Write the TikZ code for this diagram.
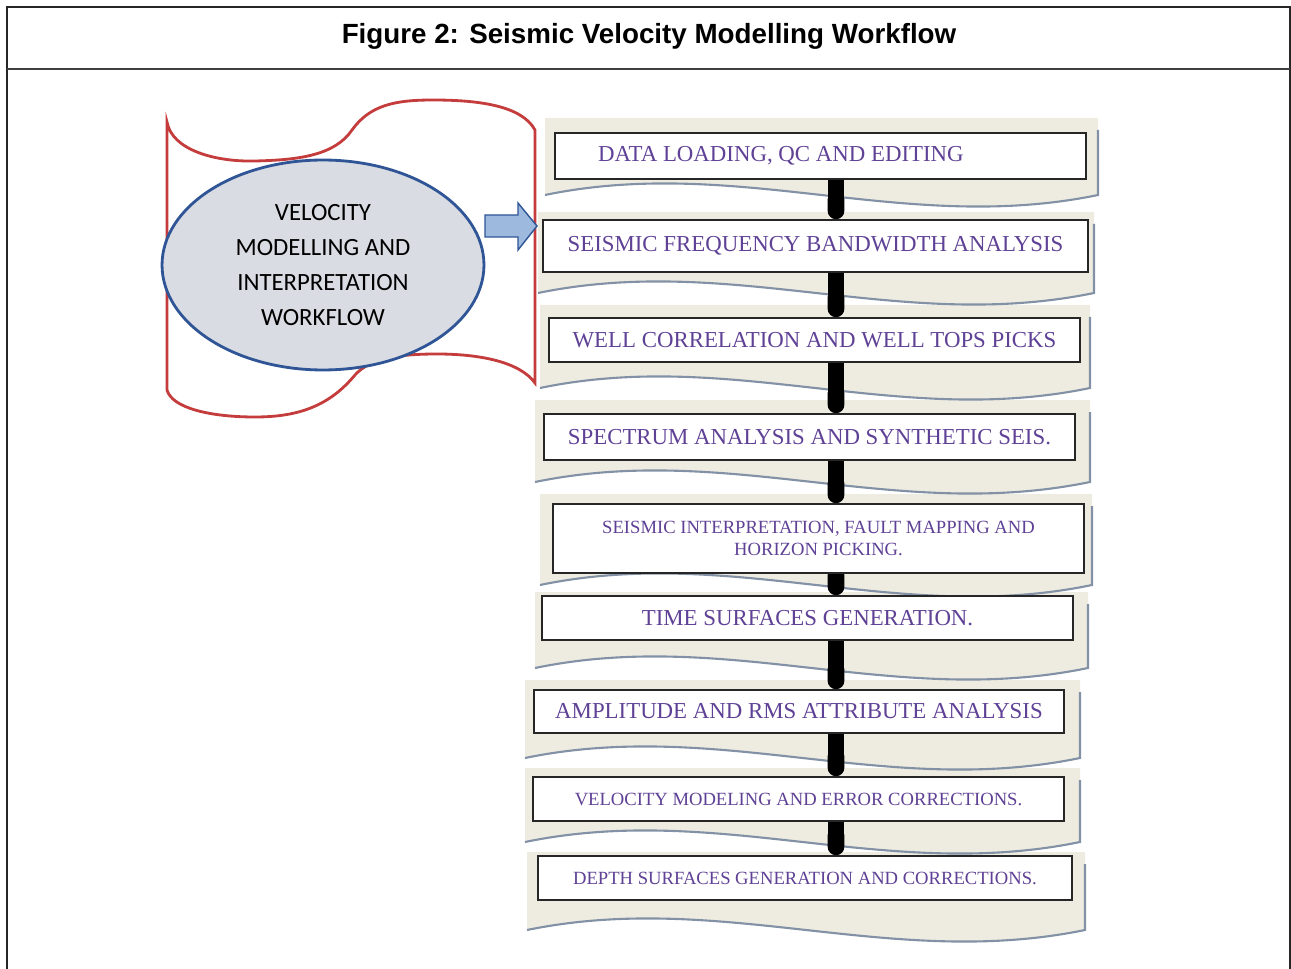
\documentclass[tikz,border=0pt]{standalone}
\usepackage{fontspec}
\setmainfont{Liberation Serif}
\newfontfamily\headfont{Liberation Sans}
\newfontfamily\bubblefont{Carlito}
\usepackage{tikz}
\usetikzlibrary{arrows.meta,positioning,shapes.geometric}
\definecolor{docbeige}{RGB}{238,236,225}
\definecolor{docedge}{RGB}{130,145,165}
\definecolor{taperred}{RGB}{196,60,60}
\definecolor{bubbleblue}{RGB}{47,85,151}
\definecolor{bubblefill}{RGB}{217,220,226}
\definecolor{arrowblue}{RGB}{157,185,222}
\definecolor{steppurple}{RGB}{95,65,150}

\begin{document}
\begin{tikzpicture}[
x=0.02cm, y=-0.02cm,
stepbox/.style={draw=black!85, line width=0.9pt, fill=white, minimum width=10.62cm, minimum height=0.88cm, inner sep=0pt, text=steppurple, font=\fontsize{13}{15}\selectfont, align=center},
smallstep/.style={stepbox, font=\fontsize{10.6}{12}\selectfont},
flow/.style={line width=9.5pt, -{Round Cap[]}, black}
]
    \useasboundingbox (0,0) rectangle (1291,969);

    % Draw frame and title
    \draw[line width=1.2pt, black!85] (7,969) -- (7,7) -- (1290,7) -- (1290,969);
    \draw[line width=1.2pt, black!75] (7,69) -- (1290,69);
    \node (title) at (649,36) {\headfont\bfseries\fontsize{15.8}{18}\selectfont Figure 2: Seismic Velocity Modelling Workflow};

    % Draw tape and bubble
    \draw[taperred, line width=1.6pt, fill=white]
        (167,122) .. controls (172,150) and (215,162) .. (255,161)
        .. controls (300,160) and (335,155) .. (352,130)
        .. controls (370,105) and (395,100) .. (433,100)
        .. controls (480,100) and (522,106) .. (535,130)
        -- (535,383)
        .. controls (520,362) and (480,354) .. (437,354)
        .. controls (400,354) and (370,358) .. (355,375)
        .. controls (330,405) and (300,417) .. (255,417)
        .. controls (210,417) and (172,408) .. (167,390) -- cycle;

    \node[ellipse, draw=bubbleblue, line width=1.6pt, fill=bubblefill, minimum width=6.44cm, minimum height=4.2cm, align=center,
          font=\bubblefont\fontsize{14.1}{19.9}\selectfont] (bubble) at (323,265)
          {VELOCITY\\MODELLING AND\\INTERPRETATION\\WORKFLOW};

    \draw[bubbleblue, line width=0.8pt, fill=arrowblue]
        (485,215) -- (518,215) -- (518,203) -- (537,226) -- (518,250) -- (518,237) -- (485,237) -- cycle;

    % Draw document backgrounds
    \foreach \xa/\xb/\yt/\yb in {545/1098/118/195, 538/1094/212/293, 540/1090/305/388, 535/1090/400/482, 540/1092/494/585, 535/1088/592/668, 525/1080/680/758, 525/1080/768/842, 527/1085/852/930}
        \fill[docbeige] (\xa,\yt) -- (\xb,\yt) -- (\xb,\yb)
            .. controls ({\xb-0.35*(\xb-\xa)},\yb+40) and ({\xa+0.35*(\xb-\xa)},\yb-40) .. (\xa,\yb) -- cycle;
    \foreach \xa/\xb/\yt/\yb in {545/1098/118/195, 538/1094/212/293, 540/1090/305/388, 535/1090/400/482, 540/1092/494/585, 535/1088/592/668, 525/1080/680/758, 525/1080/768/842, 527/1085/852/930}
        \draw[docedge, line width=1.2pt] (\xb,\yt+12) -- (\xb,\yb)
            .. controls ({\xb-0.35*(\xb-\xa)},\yb+40) and ({\xa+0.35*(\xb-\xa)},\yb-40) .. (\xa,\yb);

    % Steps
    \node[stepbox, minimum height=0.92cm] (s1) at (820.5,156) {DATA LOADING, QC AND EDITING\hspace*{45pt}};
    \node[stepbox, minimum width=10.9cm, minimum height=1.04cm] (s2) at (815.5,246) {SEISMIC FREQUENCY BANDWIDTH ANALYSIS};
    \node[stepbox] (s3) at (814.5,340) {WELL CORRELATION AND WELL TOPS PICKS};
    \node[stepbox, minimum height=0.92cm] (s4) at (809.5,437) {SPECTRUM ANALYSIS AND SYNTHETIC SEIS.};
    \node[smallstep, minimum height=1.38cm] (s5) at (818.5,538.5) {SEISMIC INTERPRETATION, FAULT MAPPING AND\\HORIZON PICKING.};
    \node[stepbox] (s6) at (807.5,618) {TIME SURFACES GENERATION.};
    \node[stepbox, minimum width=10.6cm, minimum height=0.86cm] (s7) at (799,711.5) {AMPLITUDE AND RMS ATTRIBUTE ANALYSIS};
    \node[smallstep] (s8) at (798.5,799) {VELOCITY MODELING AND ERROR CORRECTIONS.};
    \node[smallstep, minimum width=10.68cm] (s9) at (805,878) {DEPTH SURFACES GENERATION AND CORRECTIONS.};

    % Arrows between steps
    \coordinate (axis) at (836,0);
    \foreach \a/\b in {s1/s2, s2/s3, s3/s4, s4/s5, s5/s6, s6/s7, s7/s8, s8/s9}
        \draw[flow] (\a.south -| axis) -- (\b.north -| axis);

\end{tikzpicture}
\end{document}
